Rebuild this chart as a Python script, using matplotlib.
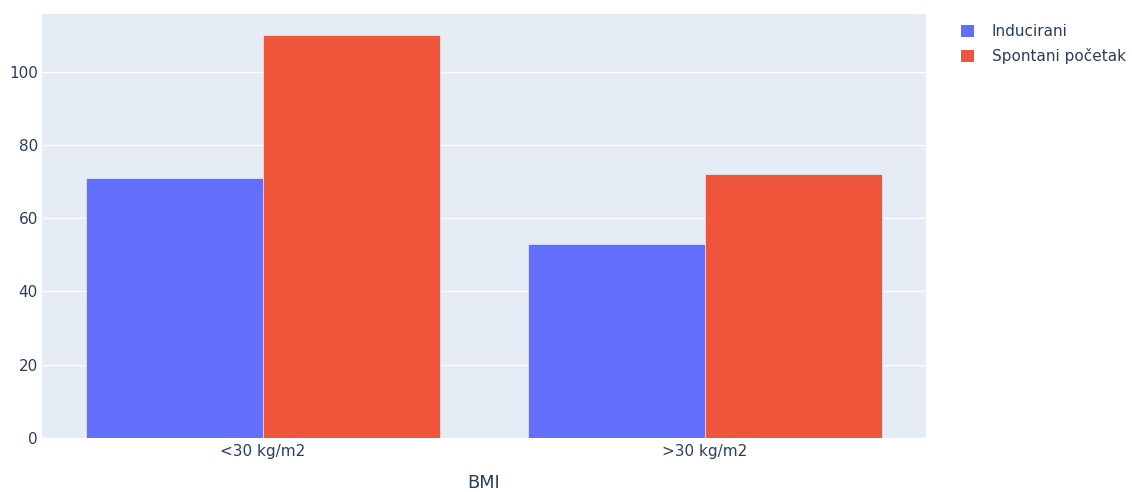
import matplotlib
matplotlib.use("Agg")
import matplotlib.pyplot as plt
import numpy as np
from matplotlib.patches import Patch

categories = ["<30 kg/m2", ">30 kg/m2"]
series_names = ["Inducirani", "Spontani početak"]
inducirani = [71, 53]
spontani = [110, 72]
colors = ["#636EFA", "#EF553B"]
yticks = [0, 20, 40, 60, 80, 100]

plt.rcParams['font.family'] = ['DejaVu Sans']
W, H = 1132, 492
fig = plt.figure(figsize=(W/100, H/100), dpi=100)
ax = fig.add_axes([42/W, (H-438)/H, 884/W, 424/H])
ax.set_facecolor("#E5ECF6")

x = np.arange(len(categories))
bw = 0.4
for i, (vals, name, c) in enumerate(zip([inducirani, spontani], series_names, colors)):
    ax.bar(x - 0.2 + i*bw, vals, width=bw, color=c, edgecolor="#E5ECF6", linewidth=0.5, zorder=3, label=name)

ax.set_xlim(-0.5, 1.5)
ax.set_ylim(0, 115.7)
ax.set_yticks(yticks)
ax.set_xticks(x)
ax.set_xticklabels(categories)
ax.grid(axis='y', color='white', linewidth=1.0, zorder=0)
ax.set_axisbelow(True)
for s in ax.spines.values():
    s.set_visible(False)
ax.tick_params(length=0, colors="#2a3f5f", labelsize=11)
ax.tick_params(axis='y', pad=3)
ax.tick_params(axis='x', pad=4)
ax.set_xlabel("BMI", color="#2a3f5f", fontsize=12.8, labelpad=11)

handles = [Patch(facecolor=c, edgecolor='none') for c in colors]
fig.legend(handles, series_names, loc='upper left', bbox_to_anchor=(961/W, 1-24/H),
           frameon=False, fontsize=11, labelcolor="#2a3f5f", handlelength=0.85, handleheight=0.85,
           handletextpad=1.15, labelspacing=0.6, borderaxespad=0, borderpad=0)

fig.savefig("out.png", dpi=100, facecolor="white")
